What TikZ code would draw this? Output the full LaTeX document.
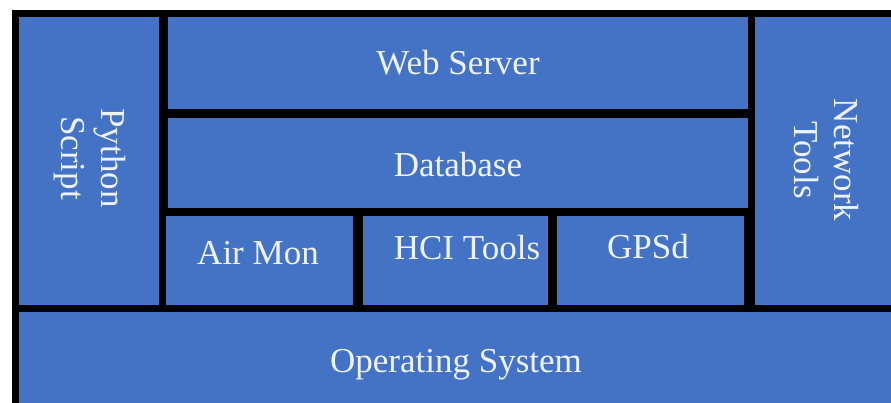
\documentclass[tikz,border=0pt]{standalone}
\usepackage{fontspec}
\setmainfont{Liberation Serif}

\definecolor{layerblue}{HTML}{4472C4}
\definecolor{layerink}{HTML}{EEF3FA}

\tikzset{
	layer/.style={fill=layerblue,inner sep=0pt,outer sep=0pt,anchor=north west},
	word/.style={text=layerink,inner sep=0pt,font=\fontsize{35}{40}\selectfont,align=center},
}

\begin{document}
\begin{tikzpicture}[x=1pt,y=-1pt]
	\useasboundingbox (0,0) rectangle (891,403);
	\fill[black] (12,10) rectangle (891,403); %黒い枠
	% 各レイヤー
	\node[layer,minimum width=140pt,minimum height=288pt] (python) at (19,17) {};
	\node[layer,minimum width=580pt,minimum height=92pt] (web) at (168,17) {};
	\node[layer,minimum width=580pt,minimum height=90pt] (db) at (168,118) {};
	\node[layer,minimum width=187pt,minimum height=89pt] (air) at (166,216) {};
	\node[layer,minimum width=185pt,minimum height=89pt] (hci) at (363,216) {};
	\node[layer,minimum width=187pt,minimum height=89pt] (gps) at (557,216) {};
	\node[layer,minimum width=136pt,minimum height=288pt] (net) at (755,17) {};
	\node[layer,minimum width=872pt,minimum height=91pt] (os) at (19,312) {};
	% ラベル
	\node[word,rotate=-90] (pythontxt) at (90,158) {Python\\Script};
	\node[word,anchor=base] (webtxt) at (458,75) {Web Server};
	\node[word,anchor=base] (dbtxt) at (458,177) {Database};
	\node[word,anchor=base] (airtxt) at (258,265) {Air Mon};
	\node[word,anchor=base] (hcitxt) at (467,260) {HCI Tools};
	\node[word,anchor=base] (gpstxt) at (648,259) {GPSd};
	\node[word,rotate=-90] (nettxt) at (826,160) {Network\\Tools};
	\node[word,anchor=base] (ostxt) at (456,372) {Operating System};
\end{tikzpicture}
\end{document}
